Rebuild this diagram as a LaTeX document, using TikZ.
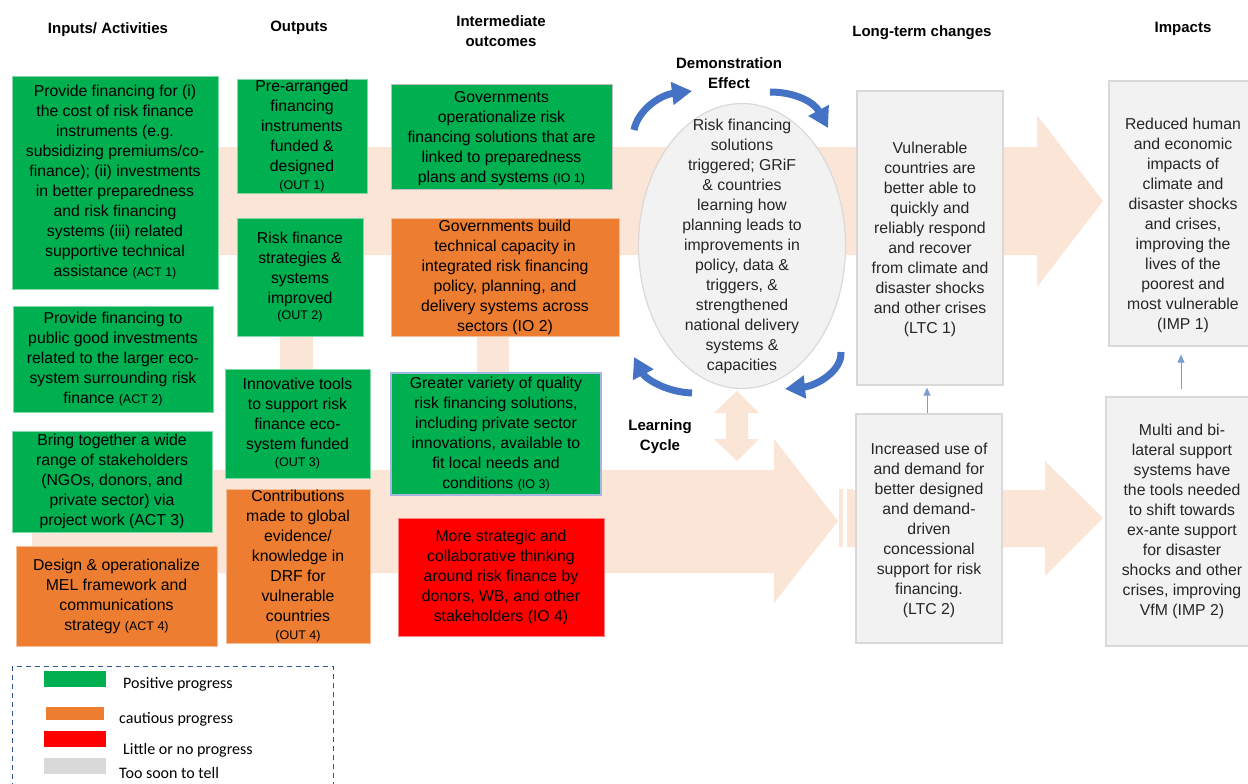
\documentclass[tikz,border=0pt]{standalone}
\usepackage{fontspec}
\setmainfont{Liberation Sans}
\newfontfamily\legendfont{Carlito}
\usepackage{tikz}
\usetikzlibrary{arrows.meta,positioning,shapes.geometric}
\definecolor{posgreen}{HTML}{00B050}
\definecolor{cautorange}{HTML}{ED7D31}
\definecolor{noprogred}{HTML}{FF0000}
\definecolor{soongray}{HTML}{F2F2F2}
\definecolor{soonedge}{HTML}{D9D9D9}
\definecolor{legendgray}{HTML}{D9D9D9}
\definecolor{bandpeach}{HTML}{FBE5D6}
\definecolor{cycleblue}{HTML}{4472C4}
\definecolor{legendblue}{HTML}{2F5597}

% small code after a result, e.g. (ACT 1)
\newcommand{\rescode}[1]{{\fontsize{12.5}{15}\selectfont #1}}

\begin{document}
\begin{tikzpicture}[x=1pt,y=-1pt,
  stagebox/.style={rectangle,inner sep=0pt,align=center,font=\fontsize{15.8}{20}\selectfont},
  greenbox/.style={stagebox,fill=posgreen,draw=posgreen!50!white,line width=0.8pt},
  orangebox/.style={stagebox,fill=cautorange,draw=cautorange!50!white,line width=0.8pt},
  redbox/.style={stagebox,fill=noprogred,draw=noprogred!50!white,line width=0.8pt},
  graybox/.style={stagebox,fill=soongray,draw=soonedge,line width=1.2pt,text=black!85},
  colhead/.style={font=\fontsize{15}{20}\selectfont\bfseries,align=center,inner sep=0pt},
  band/.style={fill=bandpeach},
  cyclearrow/.style={cycleblue,line width=7pt,-{Triangle[length=20pt,width=22pt]}},
  linkarrow/.style={cycleblue!70!white,line width=1pt,-{Triangle[length=8pt,width=7pt]}},
  swatch/.style={rectangle,inner sep=0pt,minimum width=62pt,minimum height=16pt},
  legendtxt/.style={font=\legendfont\fontsize{16}{18}\selectfont,anchor=west,inner sep=0pt}]
  \useasboundingbox (0,0) rectangle (1248,784);

  % Background bands
  \fill[band] (32,147) -- (1037,147) -- (1037,115) -- (1103,201) -- (1037,287)
    -- (1037,255) -- (32,255) -- cycle;
  \fill[band] (32,470) -- (774,470) -- (774,439) -- (838,521) -- (774,603)
    -- (774,573) -- (32,573) -- cycle;
  \fill[band] (839,489) rectangle (843,547);
  \fill[band] (847,489) rectangle (853,547);
  \fill[band] (853,490) -- (1045,490) -- (1045,461) -- (1103,518) -- (1045,576)
    -- (1045,547) -- (853,547) -- cycle;
  \fill[band] (280,334) rectangle (313,371);
  \fill[band] (477,334) rectangle (509,375);
  \fill[band] (737,391) -- (759,413) -- (748,413) -- (748,439) -- (759,439)
    -- (737,461) -- (714,439) -- (726,439) -- (726,413) -- (714,413) -- cycle;

  % Inputs / activities
  \node[greenbox,minimum width=206pt,minimum height=213pt] (act1) at (115,182.5)
    {Provide financing for (i)\\the cost of risk finance\\instruments (e.g.\\
     subsidizing premiums/co-\\finance); (ii) investments\\in better preparedness\\
     and risk financing\\systems (iii) related\\supportive technical\\
     assistance \rescode{(ACT 1)}};
  \node[greenbox,minimum width=200pt,minimum height=106pt] (act2) at (113,359)
    {Provide financing to\\public good investments\\related to the larger eco-\\
     system surrounding risk\\finance \rescode{(ACT 2)}};
  \node[greenbox,minimum width=200pt,minimum height=101pt] (act3) at (112,481.5)
    {Bring together a wide\\range of stakeholders\\(NGOs, donors, and\\
     private sector) via\\project work (ACT 3)};
  \node[orangebox,minimum width=201pt,minimum height=100pt] (act4) at (116.5,596)
    {Design \& operationalize\\MEL framework and\\communications\\
     strategy \rescode{(ACT 4)}};

  % Outputs
  \node[greenbox,minimum width=130pt,minimum height=114pt] (out1) at (302,136)
    {Pre-arranged\\financing\\instruments\\funded \&\\designed\\[-2pt]\rescode{(OUT 1)}};
  \node[greenbox,minimum width=126pt,minimum height=118pt] (out2) at (300,277)
    {Risk finance\\strategies \&\\systems\\improved\\[-4pt]\rescode{(OUT 2)}};
  \node[greenbox,minimum width=145pt,minimum height=109pt] (out3) at (297.5,423.5)
    {Innovative tools\\to support risk\\finance eco-\\system funded\\[-3pt]\rescode{(OUT 3)}};
  \node[orangebox,minimum width=144pt,minimum height=154pt] (out4) at (298,566)
    {Contributions\\made to global\\evidence/\\knowledge in\\DRF for\\vulnerable\\
     countries\\[-2pt]\rescode{(OUT 4)}};

  % Intermediate outcomes
  \node[greenbox,draw=black!25,minimum width=221pt,minimum height=105pt] (io1) at (501.5,136.5)
    {\rule{0pt}{15pt}Governments\\operationalize risk\\financing solutions that are\\
     linked to preparedness\\plans and systems \rescode{(IO 1)}};
  \node[orangebox,minimum width=228pt,minimum height=118pt] (io2) at (505,277)
    {Governments build\\technical capacity in\\integrated risk financing\\
     policy, planning, and\\delivery systems across\\sectors (IO 2)};
  \node[greenbox,draw=cycleblue!50!white,line width=1.2pt,minimum width=210pt,minimum height=122pt] (io3) at (496,434)
    {Greater variety of quality\\risk financing solutions,\\including private sector\\
     innovations, available to\\fit local needs and\\conditions \rescode{(IO 3)}};
  \node[redbox,minimum width=206pt,minimum height=118pt] (io4) at (501,577)
    {More strategic and\\collaborative thinking\\around risk finance by\\
     donors, WB, and other\\stakeholders (IO 4)};

  % Learning cycle
  \node[graybox,ellipse,minimum width=207pt,minimum height=285pt] (cycle) at (742,246) {};
  \node[stagebox,text=black!85] (cycletxt) at (cycle.center)
    {Risk financing\\solutions\\triggered; GRiF\\\& countries\\learning how\\
     planning leads to\\improvements in\\policy, data \&\\triggers, \&\\
     strengthened\\national delivery\\systems \&\\capacities};
  \coordinate (tlA) at (634,130);
  \coordinate (tlB) at (692,91);
  \coordinate (trA) at (770,92);
  \coordinate (trB) at (828,128);
  \coordinate (brA) at (841,352);
  \coordinate (brB) at (785,389);
  \coordinate (blA) at (692,393);
  \coordinate (blB) at (634,357);
  \draw[cyclearrow] (tlA) .. controls (638,110) and (660,95) .. (tlB);
  \draw[cyclearrow] (trA) .. controls (795,92) and (814,102) .. (trB);
  \draw[cyclearrow] (brA) .. controls (842,372) and (815,386) .. (brB);
  \draw[cyclearrow] (blA) .. controls (665,392) and (645,378) .. (blB);

  % Column headings
  \node[colhead] (hact) at (108,30) {Inputs/ Activities};
  \node[colhead] (hout) at (299,28) {Outputs};
  \node[colhead] (hio) at (501,31) {Intermediate\\outcomes};
  \node[colhead] (hdemo) at (729,73) {Demonstration\\Effect};
  \node[colhead] (hltc) at (922,33) {Long-term changes};
  \node[colhead] (himp) at (1183,29) {Impacts};
  \node[colhead] (hlearn) at (660,437) {Learning\\Cycle};

  % Long-term changes
  \node[graybox,minimum width=146pt,minimum height=294pt] (ltc1) at (930,238)
    {\rule{0pt}{14pt}Vulnerable\\countries are\\better able to\\quickly and\\reliably respond\\
     and recover\\from climate and\\disaster shocks\\and other crises\\(LTC 1)};
  \node[graybox,minimum width=146pt,minimum height=229pt] (ltc2) at (929,528.5)
    {\rule{0pt}{16pt}Increased use of\\and demand for\\better designed\\and demand-\\driven\\
     concessional\\support for risk\\financing.\\(LTC 2)};

  % Impacts
  \node[graybox,minimum width=148pt,minimum height=265pt] (imp1) at (1183,213.5)
    {\rule{0pt}{36pt}Reduced human\\and economic\\impacts of\\climate and\\disaster shocks\\
     and crises,\\improving the\\lives of the\\poorest and\\most vulnerable\\(IMP 1)};
  \node[graybox,minimum width=152pt,minimum height=249pt] (imp2) at (1182,521.5)
    {Multi and bi-\\lateral support\\systems have\\the tools needed\\to shift towards\\
     ex-ante support\\for disaster\\shocks and other\\crises, improving\\VfM (IMP 2)};

  % Links between long-term changes and impacts
  \draw[linkarrow,shorten >=2pt] (ltc2.north -| 927,0) -- (ltc1.south -| 927,0);
  \draw[linkarrow,shorten <=7pt,shorten >=8pt] (imp2.north -| 1181,0) -- (imp1.south -| 1181,0);

  % Legend
  \draw[legendblue,line width=0.9pt,dash pattern=on 5pt off 4pt] (12,666) rectangle (333,800);
  \node[swatch,fill=posgreen] (kpos) at (75,679) {};
  \node[swatch,fill=cautorange,minimum width=58pt,minimum height=13pt] (kcau) at (75,713.5) {};
  \node[swatch,fill=noprogred] (klit) at (75,739) {};
  \node[swatch,fill=legendgray] (ksoon) at (75,766) {};
  \node[legendtxt] (tpos) at (123,684) {Positive progress};
  \node[legendtxt] (tcau) at (119,719) {cautious progress};
  \node[legendtxt] (tlit) at (123,750) {Little or no progress};
  \node[legendtxt] (tsoon) at (119,773) {Too soon to tell};
\end{tikzpicture}
\end{document}
